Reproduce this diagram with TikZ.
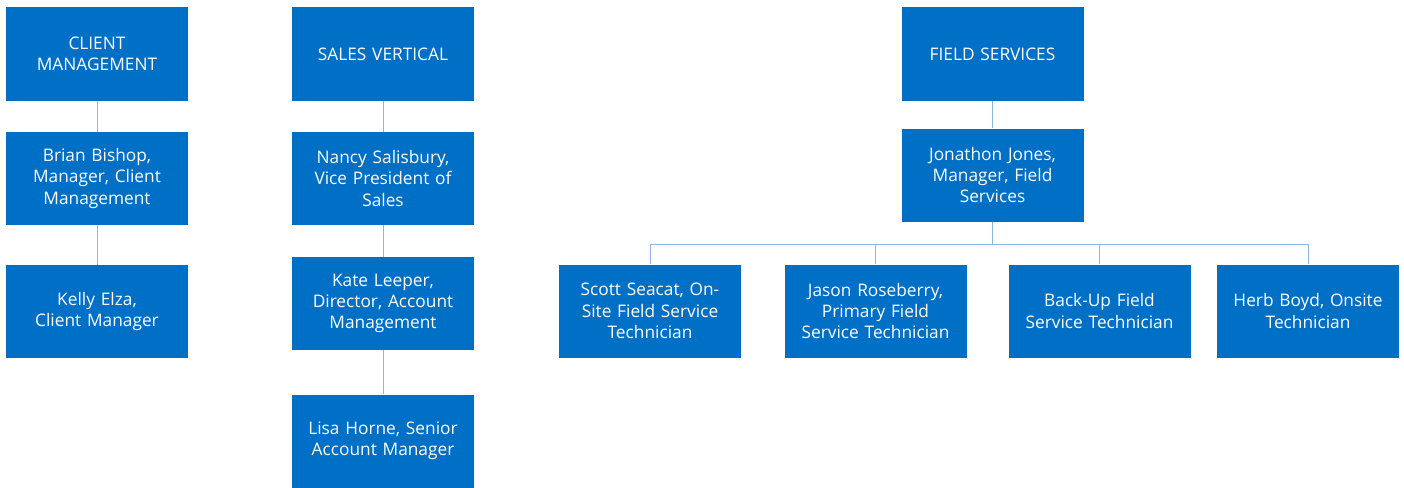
\documentclass[tikz,border=0pt]{standalone}
\usepackage{fontspec}
\setmainfont{Open Sans}
\definecolor{boxblue}{HTML}{0070C6}
\definecolor{linkblue}{HTML}{8DB6E2}
\begin{document}
\begin{tikzpicture}[x=1pt,y=-1pt,
  box/.style={fill=boxblue,draw=none,minimum width=182pt,minimum height=93pt,inner sep=0pt,
    text=white,align=center,font=\fontsize{17.3}{21.2}\selectfont,text width=178pt},
  link/.style={draw=linkblue,line width=1pt}]
\useasboundingbox (0,0) rectangle (1404,487);
\node[box] (cm) at (97,54) {CLIENT\\MANAGEMENT};
\node[box] (bb) at (97,178.5) {Brian Bishop,\\Manager, Client\\Management};
\node[box] (ke) at (97,311.5) {Kelly Elza,\\Client Manager};
\node[box] (sv) at (383,54) {SALES VERTICAL};
\node[box] (ns) at (383,178.5) {Nancy Salisbury,\\Vice President of\\Sales};
\node[box] (kl) at (383,303.5) {Kate Leeper,\\Director, Account\\Management};
\node[box] (lh) at (383,441) {Lisa Horne, Senior\\Account Manager};
\node[box] (fs) at (992.5,54) {FIELD SERVICES};
\node[box] (jj) at (992.5,175) {Jonathon Jones,\\Manager, Field\\Services};
\node[box] (ss) at (650,311) {Scott Seacat, On-\\Site Field Service\\Technician};
\node[box] (jr) at (875.5,311) {Jason Roseberry,\\Primary Field\\Service Technician};
\node[box] (bu) at (1099.5,311) {Back-Up Field\\Service Technician};
\node[box] (hb) at (1308,311) {Herb Boyd, Onsite\\Technician};
\draw[link] (cm.south) -- (bb.north);
\draw[link] (bb.south) -- (ke.north);
\draw[link] (sv.south) -- (ns.north);
\draw[link] (ns.south) -- (kl.north);
\draw[link] (kl.south) -- (lh.north);
\draw[link] (fs.south) -- (jj.north);
\coordinate (bus) at (992.5,244);
\draw[link] (jj.south) -- (bus);
\foreach \t in {ss,jr,bu,hb}{
  \draw[link] (jj.south) -- (bus) -| (\t.north);
}
\end{tikzpicture}
\end{document}
